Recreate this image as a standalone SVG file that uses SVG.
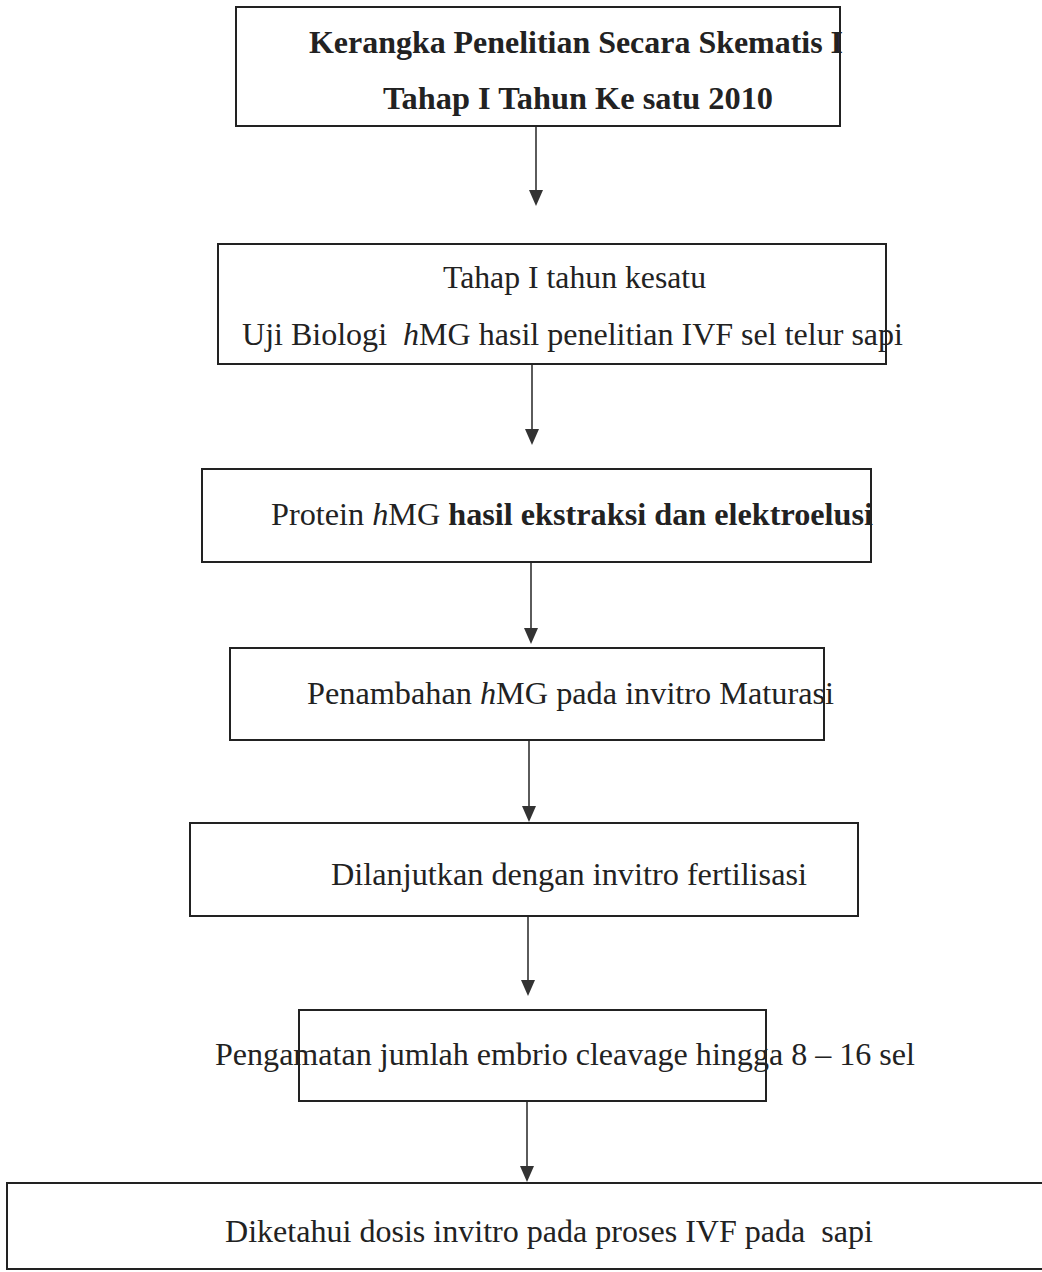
<svg xmlns="http://www.w3.org/2000/svg" width="1042" height="1272" viewBox="0 0 1042 1272">
<style>
.box{fill:none;stroke:#222;stroke-width:2}
.t{font-family:"Liberation Serif","Times New Roman",serif;font-size:31px;fill:#222}
.b{font-weight:bold}
.i{font-style:italic}
.c{stroke:#333;stroke-width:1.6;fill:none}
.ah{fill:#333}
</style>
<rect width="1042" height="1272" fill="#fff"/>
<g id="connectors">
<line class="c" x1="536" y1="126" x2="536" y2="190"/>
<polygon class="ah" points="529,190 543,190 536,206"/>
<line class="c" x1="532" y1="364" x2="532" y2="429"/>
<polygon class="ah" points="525,429 539,429 532,445"/>
<line class="c" x1="531" y1="562" x2="531" y2="628"/>
<polygon class="ah" points="524,628 538,628 531,644"/>
<line class="c" x1="529" y1="740" x2="529" y2="806"/>
<polygon class="ah" points="522,806 536,806 529,822"/>
<line class="c" x1="528" y1="916" x2="528" y2="980"/>
<polygon class="ah" points="521,980 535,980 528,996"/>
<line class="c" x1="527" y1="1101" x2="527" y2="1166"/>
<polygon class="ah" points="520,1166 534,1166 527,1182"/>
</g>
<g id="n1">
<rect class="box" x="236" y="7" width="604" height="119"/>
<text class="t b" x="309" y="53" textLength="534" lengthAdjust="spacingAndGlyphs">Kerangka Penelitian Secara Skematis I</text>
<text class="t b" x="383" y="109" textLength="390" lengthAdjust="spacingAndGlyphs">Tahap I Tahun Ke satu 2010</text>
</g>
<g id="n2">
<rect class="box" x="218" y="244" width="668" height="120"/>
<text class="t" x="443" y="288" textLength="263" lengthAdjust="spacingAndGlyphs">Tahap I tahun kesatu</text>
<text class="t" x="242" y="345" textLength="661" lengthAdjust="spacingAndGlyphs">Uji Biologi&#160; <tspan class="i">h</tspan>MG hasil penelitian IVF sel telur sapi</text>
</g>
<g id="n3">
<rect class="box" x="202" y="469" width="669" height="93"/>
<text class="t" x="271" y="525" textLength="602" lengthAdjust="spacingAndGlyphs">Protein <tspan class="i">h</tspan>MG <tspan class="b">hasil ekstraksi dan elektroelusi</tspan></text>
</g>
<g id="n4">
<rect class="box" x="230" y="648" width="594" height="92"/>
<text class="t" x="307" y="704" textLength="527" lengthAdjust="spacingAndGlyphs">Penambahan <tspan class="i">h</tspan>MG pada invitro Maturasi</text>
</g>
<g id="n5">
<rect class="box" x="190" y="823" width="668" height="93"/>
<text class="t" x="331" y="885" textLength="476" lengthAdjust="spacingAndGlyphs">Dilanjutkan dengan invitro fertilisasi</text>
</g>
<g id="n6">
<rect class="box" x="299" y="1010" width="467" height="91"/>
<text class="t" x="215" y="1065" textLength="700" lengthAdjust="spacingAndGlyphs">Pengamatan jumlah embrio cleavage hingga 8 – 16 sel</text>
</g>
<g id="n7">
<rect class="box" x="7" y="1183" width="1040" height="86"/>
<text class="t" x="225" y="1242" textLength="648" lengthAdjust="spacingAndGlyphs">Diketahui dosis invitro pada proses IVF pada&#160; sapi</text>
</g>
</svg>
